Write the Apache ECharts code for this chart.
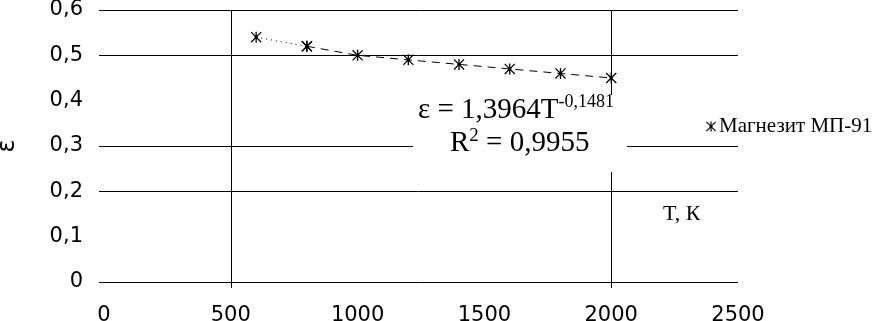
<!DOCTYPE html>
<html><head><meta charset="utf-8">
<script src="https://cdn.jsdelivr.net/npm/echarts@6/dist/echarts.min.js"></script>
<style>html,body{margin:0;padding:0;background:#fff}#c{width:875px;height:321px}</style>
</head><body><div id="c"></div>
<script>
// ---- data ----
const temperatures = [600, 800, 1000, 1200, 1400, 1600, 1800, 2000];
const emissivity = [0.54, 0.52, 0.50, 0.49, 0.48, 0.47, 0.46, 0.45];
const seriesName = 'Магнезит МП-91';
const yTickLabels = ['0', '0,1', '0,2', '0,3', '0,4', '0,5', '0,6'];
const xTickLabels = ['0', '500', '1000', '1500', '2000', '2500'];
const hGridValues = [0, 0.2, 0.3, 0.5, 0.6];
const vGridValues = [500, 2000];
const equationLine1 = 'ε = 1,3964T';
const equationExp = '-0,1481';
const equationLine2a = 'R';
const equationLine2b = '2';
const equationLine2c = ' = 0,9955';
const xAxisTitle = 'T, К';
const yAxisTitle = 'ε';

// ---- chart ----
const X_MIN = 0, X_MAX = 2500, Y_MIN = 0, Y_MAX = 0.6;
const star = 'path://M4.4,0L5.6,0L5.6,10L4.4,10Z M0,0.8L0.8,0L10,9.2L9.2,10Z M9.2,0L10,0.8L0.8,10L0,9.2Z M3.5,3.5L6.5,3.5L6.5,6.5L3.5,6.5Z';
const pts = temperatures.map((t, i) => [t, emissivity[i]]);
const crisp = v => Math.round(v) + 0.5;
const SERIF = 'Liberation Serif';
const eqRich = {
  a: {fontFamily: SERIF, fontSize: 29, lineHeight: 34, fill: '#000'},
  s: {fontFamily: SERIF, fontSize: 18, lineHeight: 16, verticalAlign: 'top', fill: '#000'},
  b: {fontFamily: SERIF, fontSize: 29, lineHeight: 32, fill: '#000'},
  t: {fontFamily: SERIF, fontSize: 19, lineHeight: 18, verticalAlign: 'top', fill: '#000'}
};

const chart = echarts.init(document.getElementById('c'), null, {renderer: 'canvas'});
chart.setOption({
  animation: false,
  backgroundColor: '#fff',
  grid: {left: 104, right: 137, top: 10, bottom: 39, containLabel: false, outerBoundsMode: 'none'},
  xAxis: {
    type: 'value', min: X_MIN, max: X_MAX, interval: 500,
    axisLine: {show: false}, axisTick: {show: false}, splitLine: {show: false},
    axisLabel: {
      margin: 23, color: '#000', fontFamily: 'DejaVu Sans', fontSize: 21,
      formatter: v => xTickLabels[Math.round(v / 500)]
    }
  },
  yAxis: {
    type: 'value', min: Y_MIN, max: Y_MAX, interval: 0.1,
    name: yAxisTitle, nameLocation: 'middle', nameRotate: 90, nameGap: 84,
    nameTextStyle: {color: '#000', fontFamily: 'DejaVu Sans', fontSize: 24},
    axisLine: {show: false}, axisTick: {show: false}, splitLine: {show: false},
    axisLabel: {
      margin: 21, color: '#000', fontFamily: 'DejaVu Sans', fontSize: 21,
      formatter: v => yTickLabels[Math.round(v * 10)]
    }
  },
  legend: {
    show: true, left: 701, top: 111, itemWidth: 10, itemHeight: 10, itemGap: 4,
    icon: star, data: [seriesName],
    textStyle: {color: '#000', fontFamily: SERIF, fontSize: 21, padding: [0, 0, 0, -2]}
  },
  series: [
    {
      type: 'custom', silent: true, clip: false, z: 1,
      data: hGridValues.map(v => [X_MIN, v]),
      renderItem: (params, api) => {
        const v = api.value(1);
        const a = api.coord([X_MIN, v]), b = api.coord([X_MAX, v]);
        return {type: 'line', shape: {x1: a[0] - 5, y1: crisp(a[1]), x2: b[0], y2: crisp(b[1])},
                style: {stroke: '#000', lineWidth: 1}};
      }
    },
    {
      type: 'custom', silent: true, clip: false, z: 1,
      data: vGridValues.map(v => [v, Y_MIN]),
      renderItem: (params, api) => {
        const v = api.value(0);
        const a = api.coord([v, Y_MIN]), b = api.coord([v, Y_MAX]);
        return {type: 'line', shape: {x1: crisp(a[0]), y1: a[1] + 6, x2: crisp(b[0]), y2: b[1]},
                style: {stroke: '#000', lineWidth: 1}};
      }
    },
    {
      name: seriesName, type: 'line', data: pts.slice(0, 2),
      symbol: star, symbolSize: 11, itemStyle: {color: '#000'},
      lineStyle: {color: '#000', width: 1, type: [1, 4]},
      z: 3
    },
    {
      name: seriesName, type: 'line', data: pts.slice(1),
      symbol: star, symbolSize: 11, itemStyle: {color: '#000'},
      lineStyle: {color: '#000', width: 1, type: [8, 6]},
      z: 3
    }
  ],
  graphic: [
    {type: 'rect', left: 413, top: 95, shape: {width: 214, height: 77}, style: {fill: '#fff'}, z: 100},
    {
      type: 'text', left: 418, top: 93, z: 101,
      style: {text: '{a|' + equationLine1 + '}{s|' + equationExp + '}', rich: eqRich}
    },
    {
      type: 'text', left: 450, top: 127, z: 101,
      style: {text: '{b|' + equationLine2a + '}{t|' + equationLine2b + '}{b|' + equationLine2c + '}', rich: eqRich}
    },
    {
      type: 'text', left: 663, top: 203, z: 101,
      style: {text: xAxisTitle, fontFamily: SERIF, fontSize: 22, fill: '#000'}
    }
  ]
});
</script></body></html>
